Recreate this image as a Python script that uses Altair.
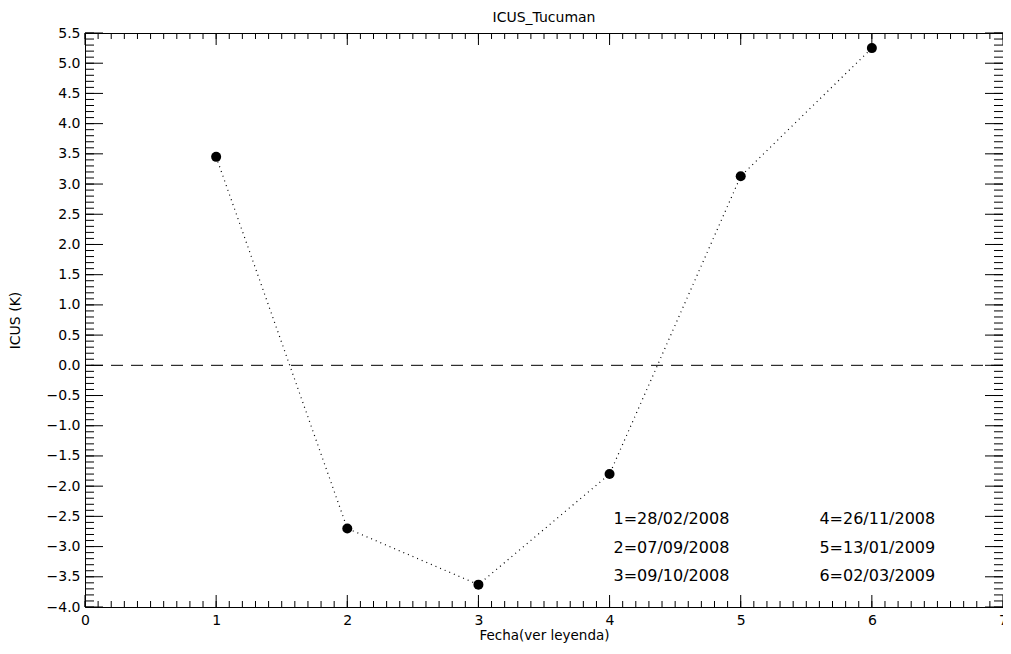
import altair as alt
import pandas as pd
import numpy as np

# ---- data ----
fecha = [1, 2, 3, 4, 5, 6]
icus = [3.45, -2.70, -3.63, -1.80, 3.13, 5.25]

legend_labels = ["1=28/02/2008", "2=07/09/2008", "3=09/10/2008",
                 "4=26/11/2008", "5=13/01/2009", "6=02/03/2009"]
legend_col_x = [4.03, 5.60]
legend_row_y = [-2.55, -3.02, -3.49]

x_major = list(range(0, 8))
y_major = [v / 2 for v in range(-8, 12)]

W, H = 918, 574
FONT = "DejaVu Sans"

xs = alt.Scale(domain=[0, 7], nice=False, zero=False)
ys = alt.Scale(domain=[-4, 5.5], nice=False, zero=False)

df = pd.DataFrame({"x": fecha, "y": icus})
leg = pd.DataFrame({
    "t": legend_labels,
    "x": [legend_col_x[0]] * 3 + [legend_col_x[1]] * 3,
    "y": legend_row_y * 2,
})

x_minor = [round(v, 2) for v in np.arange(0, 7.0001, 0.1)]
y_minor = [round(v, 2) for v in np.arange(-4, 5.5001, 0.1)]
dfxM = pd.DataFrame({"x": x_major})
dfxm = pd.DataFrame({"x": x_minor})
dfyM = pd.DataFrame({"y": y_major})
dfym = pd.DataFrame({"y": y_minor})

x_axis = alt.Axis(values=x_major, format="d", title="Fecha(ver leyenda)",
                  ticks=False, tickSize=0, domain=False, grid=False,
                  labelPadding=6, titlePadding=1, labelOverlap=False,
                  labelFlush=False, titleFontSize=13.5)
y_axis = alt.Axis(values=y_major, format=".1f", title="ICUS (K)",
                  ticks=False, tickSize=0, domain=False, grid=False,
                  labelPadding=5, titleX=-70, titleY=H / 2,
                  titleAngle=270, titleAlign="center",
                  titleBaseline="middle", labelOverlap=False)

X = alt.X("x:Q", scale=xs, axis=x_axis)
Y = alt.Y("y:Q", scale=ys, axis=y_axis)

def xticks(d, length):
    bot = alt.Chart(d).mark_rule(color="black", strokeWidth=1).encode(
        x=X, y=alt.value(H), y2=alt.value(H - length))
    top = alt.Chart(d).mark_rule(color="black", strokeWidth=1).encode(
        x=X, y=alt.value(0), y2=alt.value(length))
    return [bot, top]

def yticks(d, length):
    left = alt.Chart(d).mark_rule(color="black", strokeWidth=1).encode(
        y=Y, x=alt.value(0), x2=alt.value(length))
    right = alt.Chart(d).mark_rule(color="black", strokeWidth=1).encode(
        y=Y, x=alt.value(W), x2=alt.value(W - length))
    return [left, right]

zero = alt.Chart(pd.DataFrame({"y": [0]})).mark_rule(
    color="black", strokeWidth=1, strokeDash=[12, 8]).encode(y=Y)

line = alt.Chart(df).mark_line(color="black", strokeWidth=1.2,
                               strokeDash=[1, 4]).encode(x=X, y=Y)

pts = alt.Chart(df).mark_circle(color="black", opacity=1, size=100).encode(
    x=X, y=Y)

txt = alt.Chart(leg).mark_text(align="left", baseline="middle",
                               font=FONT, fontSize=16, color="black").encode(
    x=X, y=Y, text="t:N")

layers = [zero, line, pts, txt]
layers += xticks(dfxM, 12) + xticks(dfxm, 6)
layers += yticks(dfyM, 18) + yticks(dfym, 9)

chart = alt.layer(*layers).properties(
    width=W, height=H,
    background="white",
    padding={"left": 77, "top": 25, "right": 0, "bottom": 37},
    autosize=alt.AutoSizeParams(type="none"),
    title=alt.Title("ICUS_Tucuman", fontSize=14, font=FONT,
                    fontWeight="normal", offset=1, color="black"),
).configure_view(
    stroke="black", strokeWidth=1
).configure_axis(
    labelFont=FONT, labelFontSize=14, labelColor="black",
    titleFont=FONT, titleFontSize=14, titleFontWeight="normal",
    titleColor="black"
)

chart.save("out.html", embed_options={"renderer": "svg", "actions": False})
